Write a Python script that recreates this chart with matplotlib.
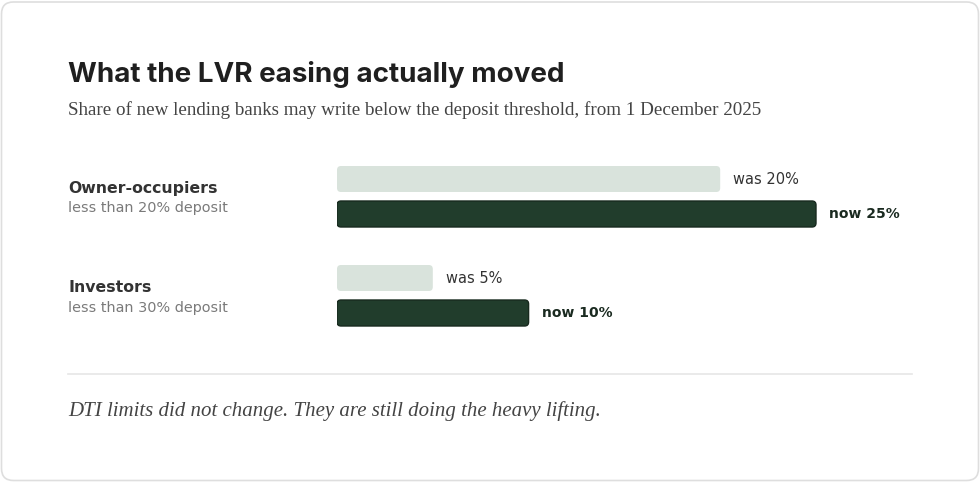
import matplotlib.pyplot as plt
from matplotlib.patches import FancyBboxPatch
from matplotlib.lines import Line2D

# data
groups = ["Owner-occupiers", "Investors"]
group_notes = ["less than 20% deposit", "less than 30% deposit"]
was_values = [20, 5]
now_values = [25, 10]

title = "What the LVR easing actually moved"
subtitle = "Share of new lending banks may write below the deposit threshold, from 1 December 2025"
footer = "DTI limits did not change. They are still doing the heavy lifting."

W, H = 980, 482
LIGHT = "#d9e3dc"
DARK = "#213d2c"
DARK_EDGE = "#17291e"


def fx(x):
    return x / W


def fy(y):
    return 1 - y / H


fig = plt.figure(figsize=(W / 100, H / 100), dpi=100)
fig.patch.set_facecolor("white")

# card outline
card = FancyBboxPatch((fx(1.5), fy(480.5)), fx(977), 478.5 / H,
                      boxstyle="round,pad=0,rounding_size=%f" % (12 / W),
                      mutation_aspect=W / H, transform=fig.transFigure,
                      facecolor="white", edgecolor="#dedede", linewidth=1.2,
                      zorder=-10)
fig.patches.append(card)

sans = ["Inter", "DejaVu Sans"]
label_font = ["DejaVu Sans"]
serif = ["Liberation Serif"]

fig.text(fx(68), fy(75), title, fontsize=20, fontweight="bold", color="#1f1f1f",
         family=sans, va="center", ha="left")
fig.text(fx(68), fy(110), subtitle, fontsize=13.7, color="#444444",
         family=serif, va="center", ha="left")
fig.text(fx(68), fy(411), footer, fontsize=15, color="#444444", style="italic",
         family=serif, va="center", ha="left")

fig.lines.append(Line2D([fx(68), fx(912)], [fy(373.5), fy(373.5)],
                        transform=fig.transFigure, color="#e6e6e6", linewidth=1.2))

# bar axes: x in percent, y in pixels
px_per_pct = (816 - 337) / 25
ax_left, ax_right = 337, 960
top, bottom = 150, 340
ax = fig.add_axes([fx(ax_left), fy(bottom), fx(ax_right - ax_left), (bottom - top) / H])
ax.set_xlim(0, (ax_right - ax_left) / px_per_pct)
ax.set_ylim(bottom, top)
ax.axis("off")

bar_h = 26
radius = 4
group_gap = 99
pair_gap = 35
first_center = 179

for i, grp in enumerate(groups):
    c_was = first_center + i * group_gap
    c_now = c_was + pair_gap
    for val, c, fc, ec, lw, lab, col, wt, fs in [
        (was_values[i], c_was, LIGHT, LIGHT, 0, "was %d%%" % was_values[i], "#333333", "normal", 10.5),
        (now_values[i], c_now, DARK, DARK_EDGE, 1.0, "now %d%%" % now_values[i], "#1a2a20", "bold", 10),
    ]:
        rect = ax.barh(c, val, height=bar_h, color=fc)[0]
        rect.set_visible(False)
        p = FancyBboxPatch((rect.get_x(), rect.get_y()), rect.get_width(), rect.get_height(),
                           boxstyle="round,pad=0,rounding_size=%f" % (radius / px_per_pct),
                           mutation_aspect=px_per_pct, facecolor=fc, edgecolor=ec,
                           linewidth=lw)
        ax.add_patch(p)
        ax.annotate(lab, (val, c), xytext=(13, 0), textcoords="offset pixels",
                    va="center", ha="left", fontsize=fs, color=col,
                    fontweight=wt, family=label_font)

    label_y = 188 + i * 100
    fig.text(fx(68), fy(label_y), grp, fontsize=11.3, color="#333333", fontweight="bold",
             family=label_font, va="center", ha="left")
    fig.text(fx(68), fy(label_y + 20), group_notes[i], fontsize=10.4, color="#7a7a7a",
             family=label_font, va="center", ha="left")

fig.savefig("out.png", dpi=100, facecolor="white")
